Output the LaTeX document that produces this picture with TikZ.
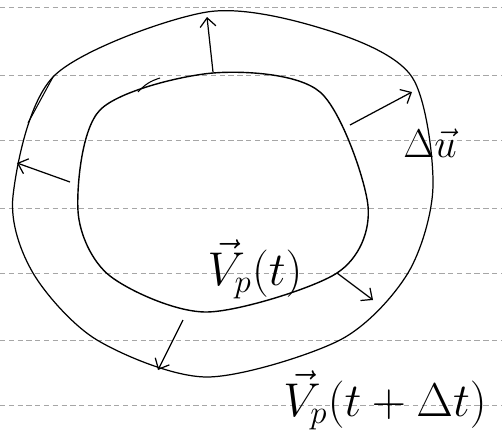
\documentclass[tikz,border=0pt]{standalone}
\usepackage{amsmath}
\usepackage{amssymb}
\usetikzlibrary{arrows.meta}

\begin{document}
\begin{tikzpicture}[scale=1, >={Straight Barb[length=5pt,width=9pt]}]
  \useasboundingbox (0,0) rectangle (10.04,8.62);
  % giay ke dong
  \foreach \y in {8.48,7.12,5.82,4.46,3.16,1.82,0.52}
    \draw[gray!70, line width=0.4pt, densely dashed] (0,\y) -- (10.04,\y);
  % quy dao ngoai
  \draw[line width=0.7pt] plot[smooth cycle] coordinates {
    (4.14,8.38) (6.60,8.00) (8.24,7.08) (8.66,4.90) (8.16,3.16) (6.80,1.82)
    (4.14,1.08) (1.94,1.82) (0.66,3.16) (0.26,4.70) (1.10,7.12)};
  % quy dao trong
  \draw[line width=0.8pt] plot[smooth cycle] coordinates {
    (4.26,7.16) (6.40,6.78) (7.36,4.50) (6.74,3.16) (4.14,2.38)
    (2.20,3.10) (1.56,4.40) (2.00,6.42)};
  \draw[line width=0.6pt] (0.56,6.16) -- (1.06,7.08);
  \draw[line width=0.6pt] (2.76,6.78) to[bend left=15] (3.20,7.06);
  % cac vecto
  \coordinate (a1) at (4.26,7.18); \coordinate (b1) at (4.14,8.28);
  \coordinate (a2) at (7.00,6.12); \coordinate (b2) at (8.24,6.78);
  \coordinate (a3) at (1.40,4.98); \coordinate (b3) at (0.34,5.36);
  \coordinate (a4) at (3.66,2.22); \coordinate (b4) at (3.16,1.22);
  \coordinate (a5) at (6.74,3.16); \coordinate (b5) at (7.46,2.62);
  \foreach \i in {1,...,5}
    \draw[->, line width=0.7pt] (a\i) -- (b\i);
  % nhan
  \node[font=\huge, scale=1.1] (dv) at (8.60,5.76) {$\Delta\vec{u}$};
  \node[font=\huge, scale=1.3] (vt) at (5.10,3.24) {$\vec{V}_p(t)$};
  \node[font=\huge, scale=1.3] (vdt) at (7.70,0.62) {$\vec{V}_p(t+\Delta t)$};
\end{tikzpicture}
\end{document}
